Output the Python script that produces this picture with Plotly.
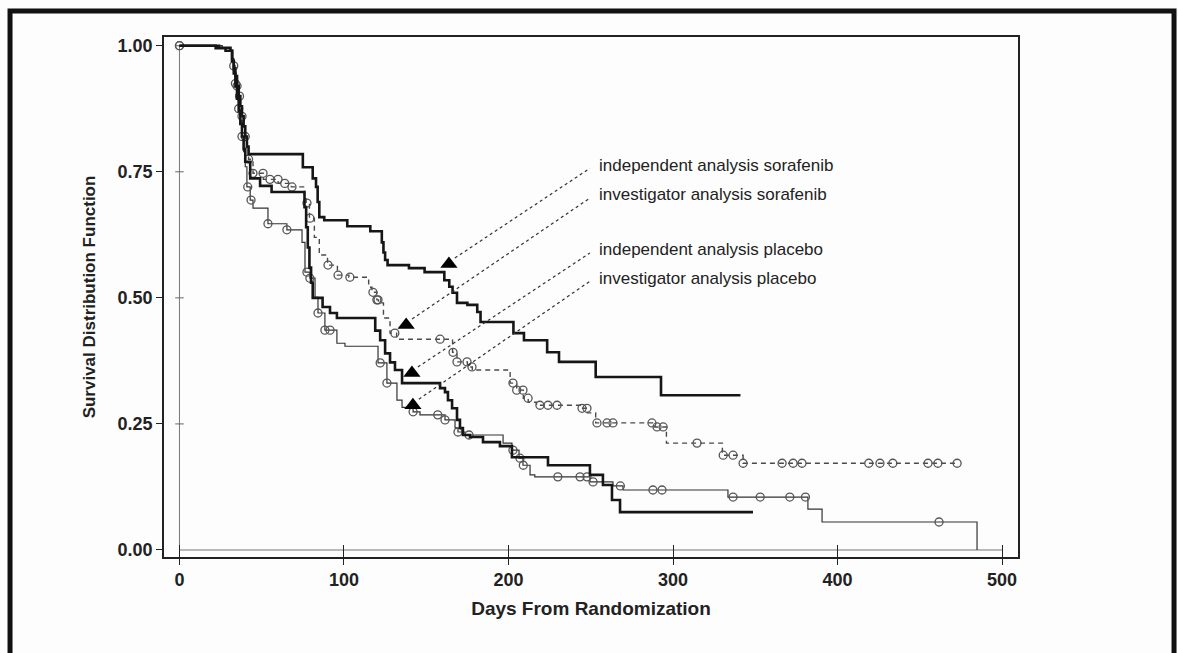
import numpy as np
import plotly.graph_objects as go

# ---- Kaplan-Meier step data (days, survival) ----
ind_sor_t = [0, 22, 28, 32, 33, 34, 35, 36, 37, 38, 39, 40, 41, 42, 75, 81, 83, 84, 85, 88,
             102, 116, 123, 124, 125, 126.5, 139.5, 149, 161, 164, 166, 168.7, 175, 181,
             183, 203, 209.4, 223.5, 230.7, 253, 292.7, 341]
ind_sor_s = [1.0, .995, .99, .97, .955, .94, .92, .90, .88, .86, .84, .82, .80, .785, .759, .737,
             .72, .69, .66, .654, .642, .632, .61, .59, .575, .565, .559, .551, .535, .522, .51,
             .49, .486, .472, .452, .43, .416, .392, .373, .343, .307, .307]

inv_sor_t = [0, 25, 31, 32, 33, 34, 35, 36, 37, 38, 39, 40, 41, 42, 44.7, 51, 60, 68, 76, 77,
             79, 82, 85, 90, 96, 103, 115, 117, 120, 121, 124, 128, 132, 166, 168.7, 175, 178,
             201, 205, 209, 212, 217, 244, 248, 253, 289, 296, 330, 342.6, 472.7]
inv_sor_s = [1.0, .996, .99, .975, .96, .94, .92, .90, .88, .86, .84, .82, .80, .775, .747, .735,
             .727, .72, .70, .688, .658, .62, .585, .565, .545, .541, .521, .511, .496, .49, .46,
             .43, .418, .392, .373, .363, .357, .331, .317, .301, .293, .287, .281, .272, .252,
             .244, .212, .188, .172, .172]
inv_sor_cens = [0, 33, 35, 36.5, 38, 40, 42, 44.7, 50.8, 55, 59.9, 64, 68.4, 77.5, 79.3, 90.3,
                96.4, 103.6, 117.6, 120, 120.7, 130.9, 158.4, 166.3, 168.7, 174.8, 177.8, 202.7,
                205, 208.8, 211.9, 219.1, 224, 229.5, 244.7, 247.7, 253.8, 259.9, 263.5, 287.2,
                290.3, 294, 314.6, 330.5, 336.5, 342.6, 366.3, 373, 378.4, 419, 425.8, 433.6,
                455, 461, 472.7]

ind_pla_t = [0, 24, 31, 32, 33, 34, 35, 36, 37, 38, 39, 40, 43, 49, 56, 76, 77, 78, 79, 80, 81,
             87, 91.5, 95.7, 119, 122, 125, 128, 131, 135.3, 158.4, 161.4, 163.2, 165.7, 168.7,
             170.5, 172.3, 176.6, 184.5, 194.8, 202.1, 224, 249.5, 257.4, 262.9, 267.8, 348.6]
ind_pla_s = [1.0, .996, .99, .97, .945, .92, .895, .87, .845, .82, .795, .77, .737, .722, .71,
             .68, .64, .60, .56, .53, .50, .482, .47, .46, .435, .416, .39, .372, .357, .331,
             .321, .313, .297, .281, .258, .242, .228, .224, .214, .206, .184, .168, .149, .129,
             .099, .075, .075]

inv_pla_t = [0, 26, 31, 32, 33, 34, 35, 36, 37, 38, 39, 40, 41, 43, 44.7, 53.8, 65.3, 74.5,
             76.3, 79.3, 82.4, 84.2, 88.4, 95.7, 100.6, 120.7, 126.1, 132.2, 135.3, 142, 146.2,
             161.4, 167.5, 169.3, 173.6, 196.7, 202.1, 206.4, 208.8, 213.1, 216, 249.5, 263.5,
             269.6, 333.4, 382, 390.6, 484.8]
inv_pla_s = [1.0, .996, .99, .97, .95, .925, .90, .875, .85, .82, .79, .76, .72, .694, .678,
             .647, .635, .61, .551, .539, .501, .47, .436, .41, .404, .371, .331, .297, .283,
             .274, .268, .258, .242, .234, .228, .212, .198, .182, .168, .149, .145, .135, .127,
             .119, .105, .081, .0555, 0.0]
inv_pla_cens = [0, 34, 36, 38, 41.5, 43.5, 53.8, 65.3, 77.5, 79.3, 84.2, 88.4, 91.5, 122, 126.1,
                142, 157, 161.4, 169.3, 176, 202.7, 207, 209, 230, 243.5, 247.7, 251.4, 268,
                287.8, 293.3, 336.5, 353, 371, 380.5, 461.7]

# ---- curve labels with pointer triangles ----
labels = ["independent analysis sorafenib", "investigator analysis sorafenib",
          "independent analysis placebo", "investigator analysis placebo"]
label_y = [0.763, 0.704, 0.595, 0.539]
label_x = 253.8
pointer_x = [163.8, 137.8, 141.3, 141.9]
pointer_y = [0.567, 0.446, 0.351, 0.287]
leader_end_x = 249.5

x_ticks = [0, 100, 200, 300, 400, 500]
y_ticks = [0, 0.25, 0.5, 0.75, 1.0]
X_RANGE = [-9.4, 509.7]
Y_RANGE = [-0.0139, 1.0173]

FONT = "Liberation Sans, Arial, sans-serif"
INK = "#161616"


def step_at(t, s, days):
    t = np.asarray(t)
    s = np.asarray(s)
    idx = np.searchsorted(t, np.asarray(days), side="right") - 1
    return s[np.clip(idx, 0, len(s) - 1)]


fig = go.Figure()

# reference lines at day 0 and survival 0
fig.add_trace(go.Scatter(x=[0, 0], y=[0, 1.0], mode="lines",
                         line=dict(color="#777", width=1), hoverinfo="skip"))
fig.add_trace(go.Scatter(x=[0, x_ticks[-1]], y=[0, 0], mode="lines",
                         line=dict(color="#777", width=1), hoverinfo="skip"))
for v in y_ticks[1:]:
    fig.add_trace(go.Scatter(x=[-2.6, 2.6], y=[v, v], mode="lines",
                             line=dict(color="#666", width=1), hoverinfo="skip"))

# investigator curves (with censoring circles)
fig.add_trace(go.Scatter(x=inv_sor_t, y=inv_sor_s, mode="lines",
                         line=dict(shape="hv", color="#4a4a4a", width=1.4, dash="5px,4px")))
fig.add_trace(go.Scatter(x=inv_sor_cens, y=step_at(inv_sor_t, inv_sor_s, inv_sor_cens),
                         mode="markers",
                         marker=dict(symbol="circle-open", size=8, color="#555",
                                     line=dict(width=1.3, color="#555"))))
fig.add_trace(go.Scatter(x=inv_pla_t, y=inv_pla_s, mode="lines",
                         line=dict(shape="hv", color="#333", width=1.2)))
fig.add_trace(go.Scatter(x=inv_pla_cens, y=step_at(inv_pla_t, inv_pla_s, inv_pla_cens),
                         mode="markers",
                         marker=dict(symbol="circle-open", size=8, color="#555",
                                     line=dict(width=1.3, color="#555"))))

# independent curves (heavy lines)
fig.add_trace(go.Scatter(x=ind_sor_t, y=ind_sor_s, mode="lines",
                         line=dict(shape="hv", color=INK, width=2.6)))
fig.add_trace(go.Scatter(x=ind_pla_t, y=ind_pla_s, mode="lines",
                         line=dict(shape="hv", color=INK, width=2.6)))

# dotted leaders from label to triangle
for px, py, ly in zip(pointer_x, pointer_y, label_y):
    fig.add_trace(go.Scatter(x=[px + 3.6, leader_end_x], y=[py + 0.012, ly - 0.006],
                             mode="lines", line=dict(color="#333", width=1.2, dash="dot"),
                             hoverinfo="skip"))
fig.add_trace(go.Scatter(x=pointer_x, y=pointer_y, mode="markers",
                         marker=dict(symbol="triangle-up", size=15, color="#000")))

for text, ly in zip(labels, label_y):
    fig.add_annotation(x=label_x, y=ly, xref="x", yref="y", text=text, showarrow=False,
                       xanchor="left", yanchor="middle",
                       font=dict(family=FONT, size=17, color="#222"))

# cross ticks reaching inside the frame on the day axis
fig.add_trace(go.Scatter(x=[0], y=[0], xaxis="x2", mode="markers",
                         marker=dict(size=0.1, opacity=0), hoverinfo="skip"))

# outer page frame
fig.add_shape(type="rect", xref="paper", yref="paper",
              x0=-0.1803, x1=1.1827, y0=-0.22, y1=1.05,
              line=dict(color="#111", width=5), fillcolor="rgba(0,0,0,0)", layer="above")

axis_common = dict(showgrid=False, zeroline=False, showline=True, linecolor="#222",
                   linewidth=1.5, mirror=True, ticks="outside", ticklen=6, tickwidth=1.2,
                   tickcolor="#222",
                   tickfont=dict(family=FONT, size=18, color="#222", weight="bold"))

fig.update_layout(
    width=1178, height=653,
    margin=dict(l=164, r=160, t=37, b=96),
    paper_bgcolor="#fdfdfd", plot_bgcolor="#fdfdfd",
    showlegend=False,
    xaxis=dict(range=X_RANGE, tickvals=x_ticks, **axis_common,
               title=dict(text="Days From Randomization", standoff=12,
                          font=dict(family=FONT, size=19, color="#222", weight="bold"))),
    xaxis2=dict(range=X_RANGE, overlaying="x", anchor="y", side="bottom", tickvals=x_ticks,
                ticks="inside", ticklen=12, tickwidth=1.2, tickcolor="#222",
                showticklabels=False, showline=False, showgrid=False, zeroline=False),
    yaxis=dict(range=Y_RANGE, tickvals=y_ticks,
               ticktext=[f"{v:.2f}" for v in y_ticks], **axis_common,
               title=dict(text="Survival Distribution Function", standoff=18,
                          font=dict(family=FONT, size=17, color="#222", weight="bold"))),
)

fig.write_html("out.html")
